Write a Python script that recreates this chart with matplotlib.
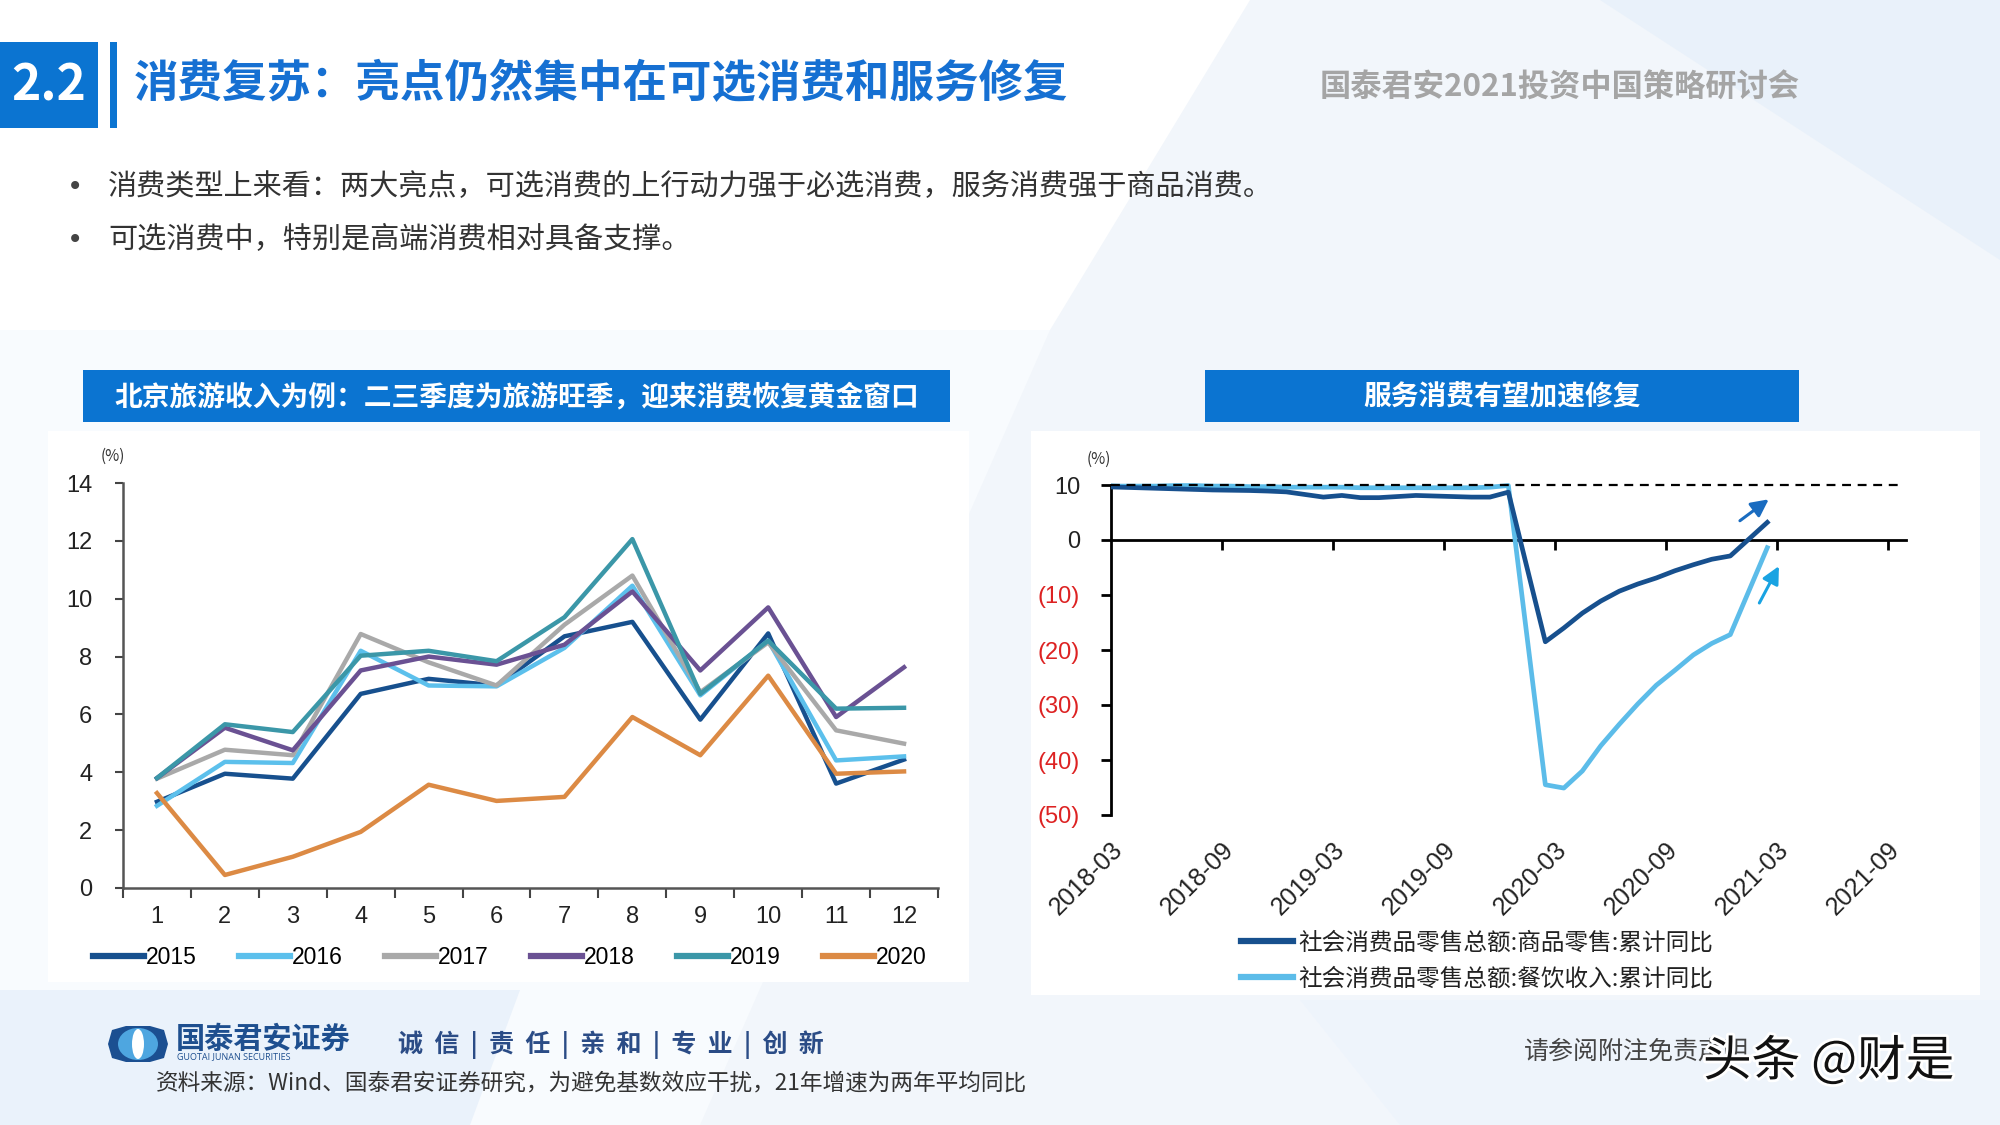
import matplotlib
matplotlib.use('Agg')
import matplotlib.pyplot as plt
from matplotlib.patches import Rectangle, Polygon, Ellipse
from matplotlib.lines import Line2D
import matplotlib.patheffects as pe
import numpy as np

plt.rcParams['font.family'] = ['Noto Sans CJK SC', 'DejaVu Sans']

# ---------------- data: left chart (Beijing tourism income, %) ----------------
months_l = list(range(1, 13))
month_labels_l = [str(m) for m in months_l]
years_l = ['2015', '2016', '2017', '2018', '2019', '2020']
s2015 = [2.98, 3.95, 3.78, 6.71, 7.23, 7.00, 8.70, 9.20, 5.82, 8.80, 3.61, 4.44]
s2016 = [2.84, 4.36, 4.32, 8.20, 7.00, 6.97, 8.30, 10.45, 6.66, 8.55, 4.41, 4.55]
s2017 = [3.78, 4.78, 4.59, 8.78, 7.80, 7.00, 9.10, 10.80, 6.77, 8.49, 5.45, 4.99]
s2018 = [3.80, 5.54, 4.76, 7.52, 8.00, 7.72, 8.41, 10.25, 7.52, 9.70, 5.91, 7.63]
s2019 = [3.80, 5.66, 5.39, 8.03, 8.20, 7.84, 9.36, 12.06, 6.71, 8.55, 6.20, 6.23]
s2020 = [3.28, 0.45, 1.08, 1.94, 3.57, 3.01, 3.15, 5.91, 4.59, 7.34, 3.95, 4.03]
colors_l = ['#17508e', '#5cc0ec', '#a9a9a9', '#6a5193', '#3b97a8', '#dc8a44']

# ---------------- data: right chart (retail sales cumulative YoY, %) ----------------
months_r = ['2018-02', '2018-03', '2018-04', '2018-05', '2018-06', '2018-07', '2018-08',
            '2018-09', '2018-10', '2018-11', '2018-12',
            '2019-02', '2019-03', '2019-04', '2019-05', '2019-06', '2019-07', '2019-08',
            '2019-09', '2019-10', '2019-11', '2019-12',
            '2020-02', '2020-03', '2020-04', '2020-05', '2020-06', '2020-07', '2020-08',
            '2020-09', '2020-10', '2020-11', '2020-12',
            '2021-02']
goods = [9.7, 9.6, 9.5, 9.4, 9.3, 9.2, 9.1, 9.05, 9.0, 8.9, 8.75,
         7.8, 8.1, 7.7, 7.7, 7.9, 8.1, 8.0, 7.9, 7.8, 7.8, 8.7,
         -18.5, -16.0, -13.3, -11.1, -9.3, -8.0, -6.9, -5.6, -4.5, -3.5, -2.9,
         3.2]
catering = [9.9, 9.8, 9.8, 9.8, 9.9, 9.9, 9.8, 9.8, 9.7, 9.7, 9.6,
            9.6, 9.6, 9.5, 9.5, 9.5, 9.5, 9.5, 9.5, 9.5, 9.6, 9.9,
            -44.5, -45.1, -42.0, -37.4, -33.5, -29.8, -26.4, -23.7, -20.9, -18.8, -17.2,
            -1.4]
date_ticks = ['2018-03', '2018-09', '2019-03', '2019-09', '2020-03', '2020-09', '2021-03', '2021-09']
yticks_r = [10, 0, -10, -20, -30, -40, -50]
yticklabels_r = ['10', '0', '(10)', '(20)', '(30)', '(40)', '(50)']
legend_r = ['社会消费品零售总额:商品零售:累计同比', '社会消费品零售总额:餐饮收入:累计同比']

W, H = 2000, 1125
fig = plt.figure(figsize=(20, 11.25), dpi=100, facecolor='#f2f6fb')


def fx(x):
    return x / W


def fy(y):
    return 1 - y / H


def rect(x0, y0, x1, y1, **kw):
    fig.patches.append(Rectangle((fx(x0), fy(y1)), (x1 - x0) / W, (y1 - y0) / H,
                                 transform=fig.transFigure, zorder=-10, **kw))


def poly(pts, **kw):
    fig.patches.append(Polygon([(fx(x), fy(y)) for x, y in pts], closed=True,
                               transform=fig.transFigure, zorder=-10, **kw))


# background shapes
poly([(0, 0), (1250, 0), (1050, 330), (0, 330)], fc='white', ec='none')
poly([(0, 330), (1050, 330), (700, 1125), (0, 1125)], fc='#f8fbfe', ec='none')
poly([(1600, 0), (2000, 0), (2000, 260)], fc='#e9f1fa', ec='none')
poly([(0, 990), (520, 990), (470, 1125), (0, 1125)], fc='#eaf2fb', ec='none')
poly([(1300, 1000), (2000, 1000), (2000, 1125), (1400, 1125)], fc='#eef4fb', ec='none')

# panels
rect(48, 431, 969, 982, fc='white', ec='none')
rect(1031, 431, 1980, 995, fc='white', ec='none')

# header
blue = '#0b74d1'
rect(0, 42, 98, 128, fc=blue, ec='none')
rect(110, 42, 117, 128, fc=blue, ec='none')
fig.text(fx(49), fy(86), '2.2', color='white', fontsize=36, fontweight='bold',
         ha='center', va='center')
fig.text(fx(134), fy(84), '消费复苏：亮点仍然集中在可选消费和服务修复', color='#1670d2',
         fontsize=32, fontweight='bold', va='center')
fig.text(fx(1320), fy(88), '国泰君安2021投资中国策略研讨会', color='#a5a5a5',
         fontsize=22.5, fontweight='bold', va='center')

# bullets
for yy, t in [(187, '消费类型上来看：两大亮点，可选消费的上行动力强于必选消费，服务消费强于商品消费。'),
              (240, '可选消费中，特别是高端消费相对具备支撑。')]:
    fig.text(fx(75), fy(yy), '•', fontsize=20, color='#444444', va='center', ha='center',
             family=['DejaVu Sans'])
    fig.text(fx(108), fy(yy), t, fontsize=21, color='#333333', va='center')

# chart title bars
rect(83, 370, 950, 422, fc=blue, ec='none')
rect(1205, 370, 1799, 422, fc=blue, ec='none')
fig.text(fx(517), fy(397), '北京旅游收入为例：二三季度为旅游旺季，迎来消费恢复黄金窗口',
         color='white', fontsize=20, fontweight='bold', ha='center', va='center')
fig.text(fx(1502), fy(397), '服务消费有望加速修复', color='white', fontsize=20,
         fontweight='bold', ha='center', va='center')

# ---------------- left chart ----------------
narrow = ['Liberation Sans Narrow', 'Liberation Sans', 'DejaVu Sans']
axL = fig.add_axes([fx(123), fy(888), 815 / W, 405 / H])
axL.set_facecolor('white')
series_l = [s2015, s2016, s2017, s2018, s2019, s2020]
for yr, vals, c in zip(years_l, series_l, colors_l):
    axL.plot(months_l, vals, color=c, lw=3.2, solid_joinstyle='round', label=yr)
axL.set_xlim(0.5, 12.5)
axL.set_ylim(0, 14)
axL.set_yticks(range(0, 15, 2))
axL.set_xticks(months_l)
axL.set_xticklabels(month_labels_l)
axL.set_xticks(np.arange(0.5, 13, 1), minor=True)
axL.tick_params(axis='x', which='major', length=0, pad=13)
axL.tick_params(axis='x', which='minor', length=7, width=1.5, color='#444444', direction='out')
axL.tick_params(axis='y', length=6, width=1.5, color='#444444', pad=16)
for s in ['top', 'right']:
    axL.spines[s].set_visible(False)
for s in ['left', 'bottom']:
    axL.spines[s].set_color('#555555')
    axL.spines[s].set_linewidth(1.8)
for tl in axL.get_xticklabels() + axL.get_yticklabels():
    tl.set_fontfamily(narrow)
    tl.set_fontsize(17)
    tl.set_color('#222222')
fig.text(fx(113), fy(456), '(%)', fontsize=11, color='#333333', ha='center', va='center')

fig.legend(handles=[Line2D([0], [0], color=c, lw=4.5) for c in colors_l], labels=years_l,
           loc='center', bbox_to_anchor=(fx(510), fy(958)), ncol=6, frameon=False,
           prop={'family': narrow, 'size': 16.5}, handlelength=2.2, handletextpad=0.1,
           columnspacing=1.85)

# ---------------- right chart ----------------


def mpos(s):
    y, m = map(int, s.split('-'))
    return (y - 2018) * 12 + (m - 3)


xs = [mpos(s) + 0.5 for s in months_r]
axR = fig.add_axes([fx(1110.7), fy(815), 795.3 / W, 333.3 / H])
axR.set_facecolor('white')
axR.set_xlim(0, 43)
axR.set_ylim(-50, 10.6)
axR.plot(xs, catering, color='#5cbce9', lw=3.4, zorder=3)
axR.plot(xs, goods, color='#17508e', lw=3.4, zorder=4)
axR.axhline(10, xmin=0, xmax=42.8 / 43, color='black', lw=1.6, dashes=(4, 3), zorder=5)

for s in ['top', 'right']:
    axR.spines[s].set_visible(False)
axR.spines['left'].set_bounds(-50, 10)
axR.spines['left'].set_linewidth(2)
axR.spines['bottom'].set_position(('data', 0))
axR.spines['bottom'].set_linewidth(2)
axR.set_xticks(np.arange(6, 43, 6))
axR.tick_params(axis='x', length=7, width=2, direction='out', labelbottom=False, color='black')
axR.set_yticks(yticks_r)
axR.set_yticklabels(yticklabels_r)
axR.tick_params(axis='y', length=7, width=2, pad=15, labelsize=17)
for tl, lab in zip(axR.get_yticklabels(), yticklabels_r):
    tl.set_fontfamily(['Liberation Sans', 'DejaVu Sans'])
    tl.set_color('#222222' if not lab.startswith('(') else '#dd2222')

sec = axR.secondary_xaxis('bottom')
sec.set_xticks([mpos(d) for d in date_ticks])
sec.set_xticklabels(date_ticks)
sec.spines['bottom'].set_visible(False)
sec.tick_params(length=0, pad=16)
for tl in sec.get_xticklabels():
    tl.set_rotation(45)
    tl.set_ha('right')
    tl.set_rotation_mode('anchor')
    tl.set_fontsize(18)
    tl.set_fontfamily(['Liberation Sans', 'DejaVu Sans'])
    tl.set_color('#222222')

axR.annotate('', xy=(35.7, 7.7), xytext=(33.9, 3.2),
             arrowprops=dict(arrowstyle='-|>', color='#1a6cc0', lw=2.2, mutation_scale=26),
             zorder=6)
axR.annotate('', xy=(36.2, -4.3), xytext=(35.0, -11.9),
             arrowprops=dict(arrowstyle='-|>', color='#19a3e2', lw=2.2, mutation_scale=26),
             zorder=6)
fig.text(fx(1099), fy(459), '(%)', fontsize=11, color='#333333', ha='center', va='center')

legR = fig.legend(handles=[Line2D([0], [0], color='#17508e', lw=4.5),
                           Line2D([0], [0], color='#5cbce9', lw=4.5)],
                  labels=legend_r, loc='upper left', bbox_to_anchor=(fx(1220), fy(910)),
                  frameon=False, fontsize=17, handlelength=2.2, handletextpad=0.2,
                  labelspacing=0.55)
for t in legR.get_texts():
    t.set_color('#222222')

# ---------------- footer ----------------
poly([(112, 1030), (126, 1026), (150, 1026), (164, 1030), (168, 1044), (164, 1058), (150, 1062),
      (126, 1062), (112, 1058), (108, 1044)], fc='#1b4f91', ec='none')
fig.patches.append(Ellipse((fx(138), fy(1044)), 40 / W, 32 / H, transform=fig.transFigure,
                           fc='#4ea6e0', ec='none', zorder=-9))
fig.patches.append(Ellipse((fx(138), fy(1044)), 12 / W, 30 / H, transform=fig.transFigure,
                           fc='white', ec='none', zorder=-8))
fig.text(fx(176), fy(1039), '国泰君安证券', fontsize=21, fontweight='bold', color='#1e4f8f',
         va='center')
fig.text(fx(177), fy(1057), 'GUOTAI JUNAN SECURITIES', fontsize=6.5, color='#1e4f8f',
         va='center', family=['Open Sans', 'DejaVu Sans'])
fig.text(fx(398), fy(1045), '诚  信  |  责  任  |  亲  和  |  专  业  |  创  新', fontsize=18,
         fontweight='bold', color='#2b4c86', va='center')
fig.text(fx(156), fy(1083), '资料来源：Wind、国泰君安证券研究，为避免基数效应干扰，21年增速为两年平均同比',
         fontsize=16.3, color='#333333', va='center')
fig.text(fx(1524), fy(1052), '请参阅附注免责声明', fontsize=18, color='#444444', va='center')
fig.text(fx(1703), fy(1062), '头条 @财是', fontsize=35, color='#111111', va='center',
         path_effects=[pe.withStroke(linewidth=4, foreground='white')])

fig.savefig('out.png', dpi=100, facecolor=fig.get_facecolor())
